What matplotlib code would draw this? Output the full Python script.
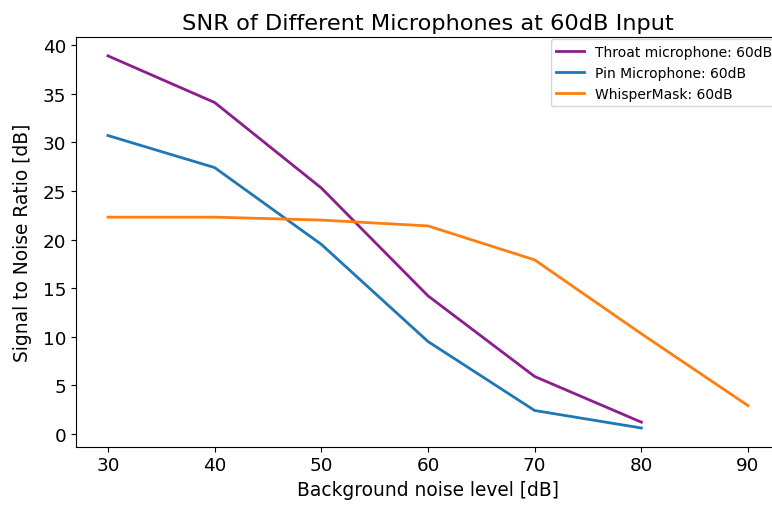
import matplotlib
matplotlib.use('Agg')
import matplotlib.pyplot as plt

noise_levels = [30, 40, 50, 60, 70, 80, 90]
throat_snr = [38.9, 34.1, 25.3, 14.2, 5.9, 1.2]
pin_snr = [30.7, 27.4, 19.5, 9.5, 2.4, 0.6]
whisper_snr = [22.3, 22.3, 22.0, 21.4, 17.9, 10.3, 2.9]

fig = plt.figure(figsize=(7.72, 5.06), dpi=100)
# axes runs past the right edge, like the cropped original
ax = fig.add_axes([0.0984, 0.1154, 0.912, 0.809])

ax.plot(noise_levels[:6], throat_snr, color='#8c1d8c', lw=2, label='Throat microphone: 60dB')
ax.plot(noise_levels[:6], pin_snr, color='tab:blue', lw=2, label='Pin Microphone: 60dB')
ax.plot(noise_levels, whisper_snr, color='tab:orange', lw=2, label='WhisperMask: 60dB')

ax.set_title('SNR of Different Microphones at 60dB Input', fontsize=16.2)
ax.set_xlabel('Background noise level [dB]', fontsize=13.4)
ax.set_ylabel('Signal to Noise Ratio [dB]', fontsize=13.4, labelpad=8)
ax.tick_params(labelsize=13.2)
ax.legend(loc='upper right', fontsize=10, borderaxespad=0.15)

fig.savefig('out.png', dpi=100)
